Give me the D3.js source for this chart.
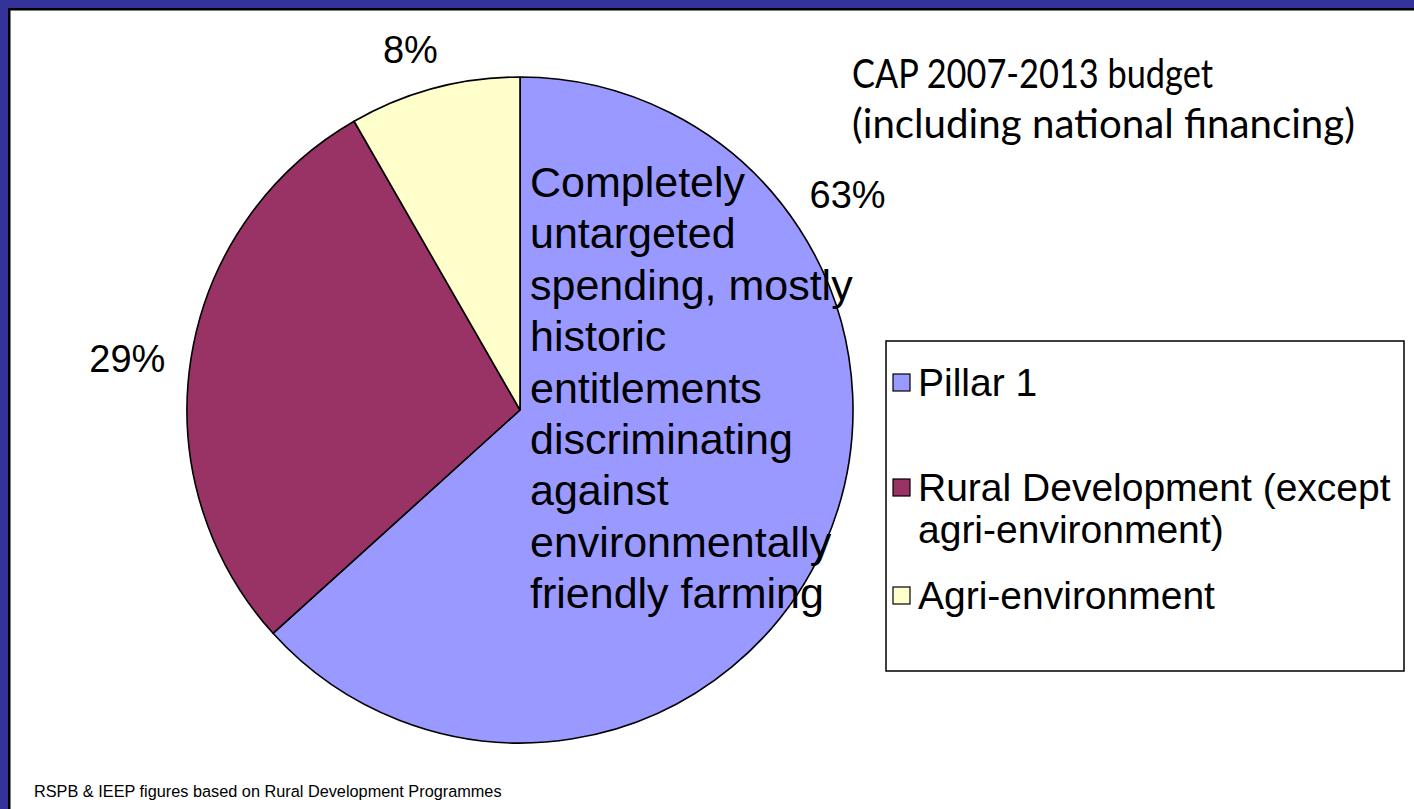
<!DOCTYPE html>
<meta charset="utf-8">
<style>
body { margin: 0; background: #fff; }
svg text { font-family: "Liberation Sans", Arial, sans-serif; fill: #000; }
.title { font-family: Lato, "Open Sans", sans-serif; font-size: 40px; }
.pct { font-size: 38px; }
.note { font-size: 43px; }
.legend text { font-size: 39px; }
.foot { font-size: 16.3px; }
</style>
<svg width="1414" height="809"></svg>
<script src="https://d3js.org/d3.v7.min.js"></script>
<script>
// data
var categories = ["Pillar 1", "Rural Development (except agri-environment)", "Agri-environment"];
var shares = [63.3, 28.4, 8.3];
var shareLabels = ["63%", "29%", "8%"];
var colours = ["#9999ff", "#993366", "#ffffcc"];
var legendLines = [["Pillar 1"], ["Rural Development (except", "agri-environment)"], ["Agri-environment"]];
var titleLines = ["CAP 2007-2013 budget", "(including national financing)"];
var noteLines = ["Completely", "untargeted", "spending, mostly", "historic", "entitlements",
                 "discriminating", "against", "environmentally", "friendly farming"];
var source = "RSPB & IEEP figures based on Rural Development Programmes";

var svg = d3.select("svg"),
    width = +svg.attr("width"),
    height = +svg.attr("height");

// slide frame: blue band + black rule on top and left
svg.append("rect").attr("x", 0).attr("y", 0).attr("width", width).attr("height", 8).attr("fill", "#333399");
svg.append("rect").attr("x", 0).attr("y", 0).attr("width", 8).attr("height", height).attr("fill", "#333399");
svg.append("rect").attr("x", 8).attr("y", 8).attr("width", width - 8).attr("height", 2.5).attr("fill", "#000");
svg.append("rect").attr("x", 8).attr("y", 8).attr("width", 2.5).attr("height", height - 8).attr("fill", "#000");

var cx = 520, cy = 410, r = 333;

var pie = d3.pie().sort(null).value(function(d) { return d; });
var arcs = pie(shares);
var arc = d3.arc().innerRadius(0).outerRadius(r);

var g = svg.append("g").attr("transform", "translate(" + cx + "," + cy + ")");

g.selectAll("path")
  .data(arcs)
  .enter().append("path")
    .attr("d", arc)
    .attr("fill", function(d, i) { return colours[i]; })
    .attr("stroke", "#000")
    .attr("stroke-width", 1.6)
    .attr("stroke-linejoin", "round");

// percentage labels sit outside the rim; they were hand placed in the original
// (angle in degrees clockwise from 12 o'clock, distance from the centre)
var labelPlace = [[56.7, 392], [-82.5, 396], [-16.9, 377]];
g.selectAll("text.pct")
  .data(arcs)
  .enter().append("text")
    .attr("class", "pct")
    .attr("text-anchor", "middle")
    .attr("dy", "0.35em")
    .attr("transform", function(d, i) {
      var a = labelPlace[i][0] * Math.PI / 180, rr = labelPlace[i][1];
      var p = d3.arc().innerRadius(rr).outerRadius(rr).centroid({startAngle: a, endAngle: a});
      return "translate(" + p + ")";
    })
    .text(function(d, i) { return shareLabels[i]; });

// note over the Pillar 1 slice
svg.append("g").selectAll("text")
  .data(noteLines)
  .enter().append("text")
    .attr("class", "note")
    .attr("x", 530)
    .attr("y", function(d, i) { return 197 + i * 51.4; })
    .text(function(d) { return d; });

// title (Calibri in the original, so squeeze Lato to the same widths)
var titleWidths = [361, 503];
svg.append("g").selectAll("text")
  .data(titleLines)
  .enter().append("text")
    .attr("class", "title")
    .attr("x", 852)
    .attr("y", function(d, i) { return 88 + i * 50; })
    .attr("textLength", function(d, i) { return titleWidths[i]; })
    .attr("lengthAdjust", "spacingAndGlyphs")
    .text(function(d) { return d; });

// legend
var legend = svg.append("g").attr("class", "legend");
legend.append("rect")
  .attr("x", 886).attr("y", 341)
  .attr("width", 518).attr("height", 330)
  .attr("fill", "#fff").attr("stroke", "#000").attr("stroke-width", 1.5);

var itemY = [396, 501, 609];
var item = legend.selectAll("g.item")
  .data(categories)
  .enter().append("g")
    .attr("class", "item")
    .attr("transform", function(d, i) { return "translate(893," + itemY[i] + ")"; });

item.append("rect")
  .attr("x", 0).attr("y", -22)
  .attr("width", 17).attr("height", 17)
  .attr("fill", function(d, i) { return colours[i]; })
  .attr("stroke", "#000").attr("stroke-width", 1.2);

item.each(function(d, i) {
  d3.select(this).selectAll("text")
    .data(legendLines[i])
    .enter().append("text")
      .attr("x", 25)
      .attr("y", function(t, j) { return j * 42; })
      .text(function(t) { return t; });
});

// source line
svg.append("text")
  .attr("class", "foot")
  .attr("x", 34)
  .attr("y", 797)
  .text(source);
</script>
